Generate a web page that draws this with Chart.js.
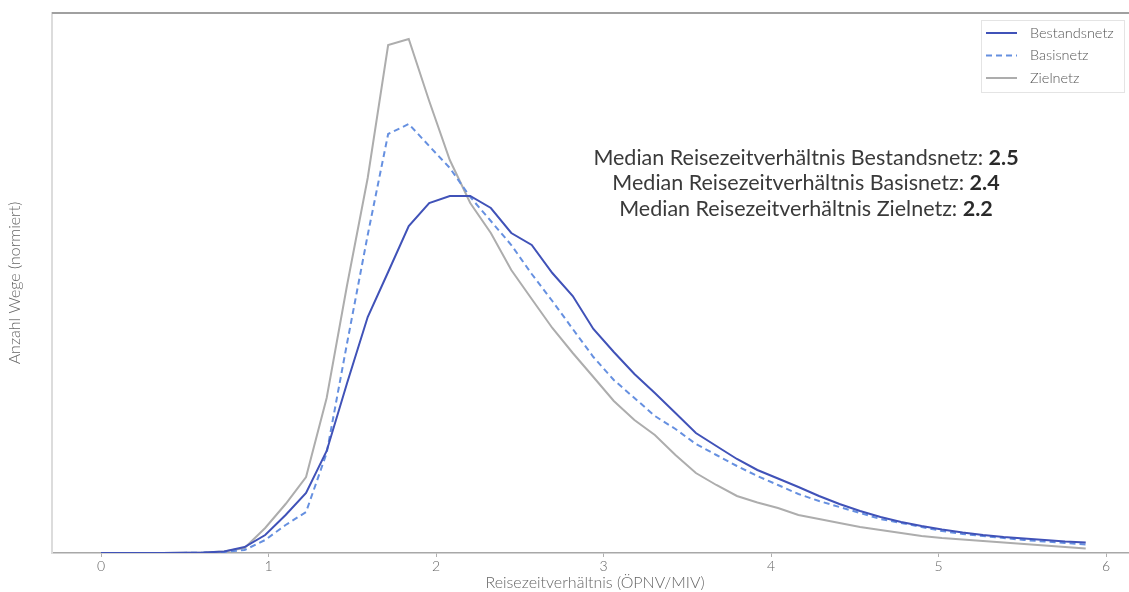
<!DOCTYPE html>
<html>
<head>
<meta charset="utf-8">
<script src="https://cdn.jsdelivr.net/npm/chart.js@4.4.1/dist/chart.umd.min.js"></script>
<style>
  html, body { margin: 0; padding: 0; background: #fff; overflow: hidden; }
  #wrap { width: 1145px; height: 592px; }
</style>
</head>
<body>
<div id="wrap"><canvas id="myChart" width="1145" height="592"></canvas></div>
<script>
// travel time ratio bins (OePNV / MIV)
var ratios = [0, 0.122, 0.245, 0.367, 0.490, 0.612, 0.735, 0.857, 0.980, 1.102,
  1.224, 1.347, 1.469, 1.592, 1.714, 1.837, 1.959, 2.082, 2.204, 2.327,
  2.449, 2.571, 2.694, 2.816, 2.939, 3.061, 3.184, 3.306, 3.429, 3.551,
  3.673, 3.796, 3.918, 4.041, 4.163, 4.286, 4.408, 4.531, 4.653, 4.776,
  4.898, 5.020, 5.143, 5.265, 5.388, 5.510, 5.633, 5.755, 5.878];

// normalised trip counts per network
var bestandsnetz = [0, 0, 0, 0, 0.0004, 0.001, 0.003, 0.012, 0.036, 0.076,
  0.12, 0.204, 0.34, 0.472, 0.562, 0.654, 0.70, 0.714, 0.714, 0.69,
  0.64, 0.616, 0.56, 0.514, 0.448, 0.402, 0.358, 0.32, 0.28, 0.24,
  0.214, 0.188, 0.166, 0.149, 0.132, 0.114, 0.098, 0.084, 0.072, 0.062,
  0.054, 0.047, 0.041, 0.036, 0.032, 0.029, 0.026, 0.023, 0.021];
var basisnetz = [0, 0, 0, 0, 0.0002, 0.0006, 0.002, 0.006, 0.026, 0.056,
  0.082, 0.2, 0.42, 0.636, 0.838, 0.858, 0.814, 0.77, 0.712, 0.664,
  0.616, 0.558, 0.504, 0.448, 0.392, 0.346, 0.31, 0.274, 0.248, 0.218,
  0.196, 0.174, 0.154, 0.136, 0.118, 0.104, 0.092, 0.08, 0.068, 0.06,
  0.052, 0.044, 0.038, 0.034, 0.03, 0.026, 0.023, 0.02, 0.017];
var zielnetz = [0, 0, 0, 0, 0.0004, 0.001, 0.003, 0.01, 0.05, 0.098,
  0.152, 0.31, 0.536, 0.75, 1.016, 1.028, 0.904, 0.786, 0.7, 0.64,
  0.566, 0.508, 0.45, 0.4, 0.352, 0.304, 0.266, 0.236, 0.196, 0.16,
  0.136, 0.114, 0.101, 0.09, 0.076, 0.068, 0.06, 0.052, 0.046, 0.04,
  0.034, 0.03, 0.027, 0.024, 0.021, 0.018, 0.015, 0.012, 0.009];

var seriesNames = ['Bestandsnetz', 'Basisnetz', 'Zielnetz'];
var medianValues = ['2.5', '2.4', '2.2'];

function toPoints(values) {
  var pts = [];
  for (var i = 0; i < values.length; i++) {
    pts.push({x: ratios[i], y: values[i]});
  }
  return pts;
}

var fontName = 'Lato, "Open Sans", sans-serif';

// frame, legend box and median text
var overlay = {
  id: 'overlay',
  afterDraw: function(chart) {
    var ctx = chart.ctx;
    var area = chart.chartArea;
    ctx.save();

    ctx.strokeStyle = '#a0a0a0';
    ctx.lineWidth = 2;
    ctx.beginPath();
    ctx.moveTo(area.left, area.top);
    ctx.lineTo(area.right, area.top);
    ctx.stroke();

    // legend
    ctx.fillStyle = '#fff';
    ctx.fillRect(981, 20, 143, 72);
    ctx.strokeStyle = '#e4e4e4';
    ctx.lineWidth = 1;
    ctx.strokeRect(981.5, 20.5, 143, 72);
    var sets = chart.data.datasets;
    for (var i = 0; i < sets.length; i++) {
      var y = 33 + i * 22.5;
      ctx.strokeStyle = sets[i].borderColor;
      ctx.lineWidth = sets[i].borderWidth;
      ctx.setLineDash(sets[i].borderDash || []);
      ctx.beginPath();
      ctx.moveTo(986, y);
      ctx.lineTo(1017, y);
      ctx.stroke();
      ctx.setLineDash([]);
      ctx.fillStyle = '#555';
      ctx.font = '300 14.5px ' + fontName;
      ctx.textBaseline = 'middle';
      ctx.textAlign = 'left';
      ctx.fillText(sets[i].label, 1030, y);
    }

    // median annotations
    var cx = 806;
    for (var j = 0; j < seriesNames.length; j++) {
      var normal = 'Median Reisezeitverhältnis ' + seriesNames[j] + ': ';
      var bold = medianValues[j];
      ctx.font = '21.5px ' + fontName;
      var w1 = ctx.measureText(normal).width;
      ctx.font = 'bold 21.5px ' + fontName;
      var w2 = ctx.measureText(bold).width;
      var x0 = cx - (w1 + w2) / 2;
      var ty = 158 + j * 25.5;
      ctx.textBaseline = 'middle';
      ctx.textAlign = 'left';
      ctx.font = '21.5px ' + fontName;
      ctx.fillStyle = '#3a3a3a';
      ctx.fillText(normal, x0, ty);
      ctx.font = 'bold 21.5px ' + fontName;
      ctx.fillStyle = '#2a2a2a';
      ctx.fillText(bold, x0 + w1, ty);
    }
    ctx.restore();
  }
};

var ctx = document.getElementById('myChart').getContext('2d');
var myChart = new Chart(ctx, {
  type: 'line',
  data: {
    datasets: [
      {
        label: seriesNames[0],
        data: toPoints(bestandsnetz),
        borderColor: '#4052b8',
        borderWidth: 2,
        pointRadius: 0,
        tension: 0,
        fill: false
      },
      {
        label: seriesNames[1],
        data: toPoints(basisnetz),
        borderColor: '#6690e0',
        borderWidth: 2,
        borderDash: [6, 4],
        pointRadius: 0,
        tension: 0,
        fill: false
      },
      {
        label: seriesNames[2],
        data: toPoints(zielnetz),
        borderColor: '#adadad',
        borderWidth: 2,
        pointRadius: 0,
        tension: 0,
        fill: false
      }
    ]
  },
  options: {
    responsive: false,
    animation: false,
    layout: { padding: { top: 13, right: 7, left: 0, bottom: 0 } },
    plugins: {
      legend: { display: false },
      tooltip: { enabled: false }
    },
    scales: {
      x: {
        type: 'linear',
        min: -0.2925,
        max: 6.19,
        afterFit: function(scale) { scale.height = 39; },
        ticks: {
          stepSize: 1,
          includeBounds: false,
          color: '#666',
          padding: 1,
          font: { family: fontName, size: 14, weight: '300' }
        },
        grid: {
          display: true,
          drawOnChartArea: false,
          drawTicks: true,
          tickLength: 4,
          color: '#b0b0b0'
        },
        border: { display: true, color: '#a8a8a8', width: 1.5 },
        title: {
          display: true,
          text: 'Reisezeitverhältnis (ÖPNV/MIV)',
          color: '#666',
          font: { family: fontName, size: 16, weight: '300' },
          padding: { top: 0, bottom: 0 }
        }
      },
      y: {
        min: 0,
        max: 1.08,
        afterFit: function(scale) { scale.width = 52; },
        ticks: { display: false },
        grid: { display: false },
        border: { display: true, color: '#dcdcdc', width: 2 },
        title: {
          display: true,
          text: 'Anzahl Wege (normiert)',
          color: '#666',
          font: { family: fontName, size: 16, weight: '300' },
          padding: { top: 5, bottom: 0 }
        }
      }
    }
  },
  plugins: [overlay]
});
</script>
</body>
</html>
